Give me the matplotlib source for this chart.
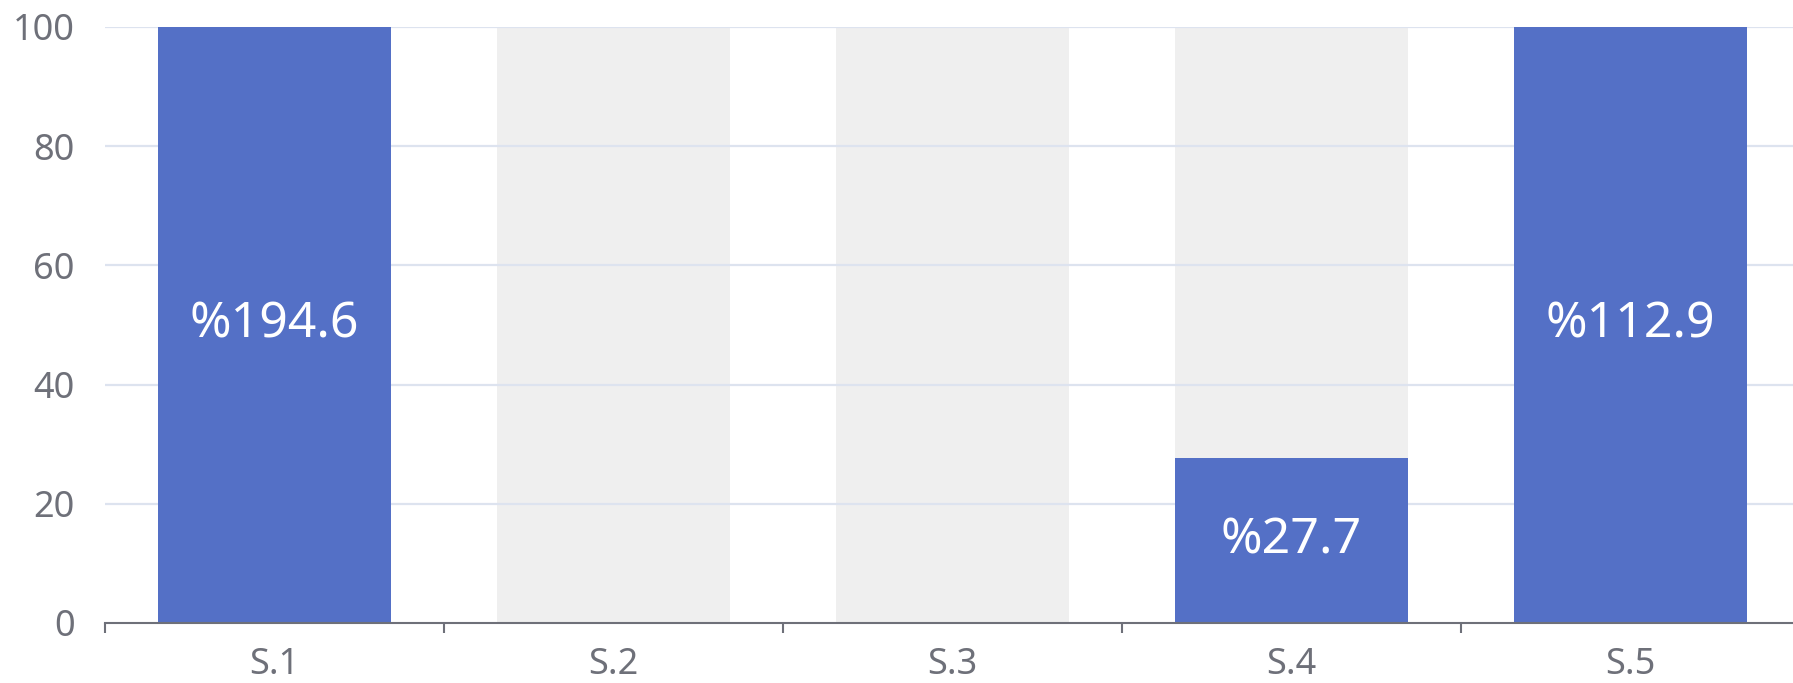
import numpy as np
import matplotlib
matplotlib.use("Agg")
import matplotlib.pyplot as plt

plt.rcParams['font.family'] = ['Noto Sans', 'DejaVu Sans']

categories = ["S.1", "S.2", "S.3", "S.4", "S.5"]
values = [194.6, None, None, 27.7, 112.9]
yticks = [0, 20, 40, 60, 80, 100]
ymax = 100

bar_color = "#5470c6"
bg_color = "#efefef"
grid_color = "#dde3ef"
axis_color = "#6e7079"

fig = plt.figure(figsize=(17.93, 6.83), dpi=100)
ax = fig.add_axes([105 / 1793, 60 / 683, 1695 / 1793, 596 / 683])

x = np.arange(len(categories))
width = 0.69

# background bars
ax.bar(x, [ymax] * len(x), width=width, color=bg_color, zorder=1)

# grid lines
for t in yticks[1:]:
    ax.axhline(t, color=grid_color, lw=1.6, zorder=2)

# data bars
for i, v in enumerate(values):
    if v is None:
        continue
    ax.bar(x[i], v, width=width, color=bar_color, zorder=3)
    shown = min(v, ymax)
    ax.text(x[i], shown / 2, "%" + str(v), ha="center", va="center",
            color="white", fontsize=36, zorder=4)

ax.set_xlim(-0.5, len(categories) - 0.5)
ax.set_ylim(0, ymax)
ax.set_yticks(yticks)
ax.set_xticks(x)
ax.set_xticklabels(categories)
ax.set_xticks(np.arange(len(categories) + 1) - 0.5, minor=True)

for s in ["top", "right", "left"]:
    ax.spines[s].set_visible(False)
ax.spines["bottom"].set_color(axis_color)
ax.spines["bottom"].set_linewidth(1.5)
ax.spines["bottom"].set_zorder(5)

ax.tick_params(axis="y", length=0, pad=22, labelsize=26, labelcolor=axis_color)
ax.tick_params(axis="x", which="major", length=0, pad=17, labelsize=26,
               labelcolor=axis_color)
ax.tick_params(axis="x", which="minor", length=7, width=1.5, color=axis_color)

fig.savefig("out.png", dpi=100)
